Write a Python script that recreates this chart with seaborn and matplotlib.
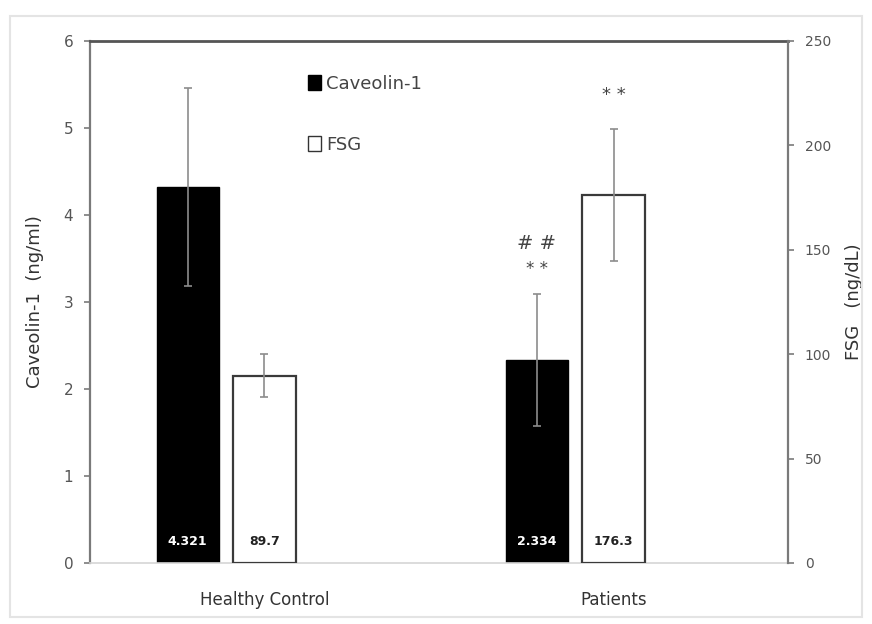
import matplotlib
matplotlib.use("Agg")
import matplotlib.pyplot as plt
from matplotlib.patches import Patch, Rectangle
import numpy as np
import pandas as pd
import seaborn as sns

# 各群の値
groups = ["Healthy Control", "Patients"]
caveolin = [4.321, 2.334]
caveolin_sd = [1.14, 0.76]
fsg = [89.7, 176.3]
fsg_sd = [10.3, 31.5]
series = ["Caveolin-1", "FSG"]
cav_labels = ["4.321", "2.334"]
fsg_labels = ["89.7", "176.3"]

sns.set_theme(style="white")
plt.rcParams["font.family"] = ["DejaVu Sans"]

fig = plt.figure(figsize=(8.72, 6.24), dpi=100)
ax1 = fig.add_axes([0.1032, 0.0978, 0.8005, 0.8365])
ax2 = ax1.twinx()

# 外枠
fig.patches.append(Rectangle((0.012, 0.012), 0.976, 0.963, transform=fig.transFigure,
                             fill=False, edgecolor="#e4e4e4", linewidth=1.5))

df_cav = pd.DataFrame({"group": groups, "value": caveolin, "series": "Caveolin-1"})
df_fsg = pd.DataFrame({"group": groups, "value": fsg})

# Caveolin-1 (左軸): 群中心から左へずらす
sns.barplot(data=df_cav, x="group", y="value", hue="series", hue_order=series,
            palette={"Caveolin-1": "black", "FSG": "white"}, width=0.88, gap=0.595,
            dodge=True, edgecolor="black", linewidth=1, legend=False, ax=ax1)
# FSG (右軸): 群中心
sns.barplot(data=df_fsg, x="group", y="value", color="white", width=0.178,
            edgecolor="#3a3a3a", linewidth=1.6, ax=ax2)

cav_bars = [p for p in ax1.patches if p.get_height() > 0]
fsg_bars = [p for p in ax2.patches if p.get_height() > 0]
cav_x = [p.get_x() + p.get_width() / 2 for p in cav_bars]
fsg_x = [p.get_x() + p.get_width() / 2 for p in fsg_bars]

ax1.errorbar(cav_x, caveolin, yerr=caveolin_sd, fmt="none", ecolor="#8c8c8c",
             elinewidth=1.2, capsize=3, capthick=1.2, zorder=5)
ax2.errorbar(fsg_x, fsg, yerr=fsg_sd, fmt="none", ecolor="#8c8c8c",
             elinewidth=1.2, capsize=3, capthick=1.2, zorder=5)

# 棒の中の数値
for x, t in zip(cav_x, cav_labels):
    ax1.text(x, 0.25, t, color="white", ha="center", va="center", fontsize=9, fontweight="bold")
for x, t in zip(fsg_x, fsg_labels):
    ax2.text(x, 10.4, t, color="#222222", ha="center", va="center", fontsize=9, fontweight="bold")

# 有意差の記号
ax2.text(fsg_x[1], 224, "* *", ha="center", va="center", fontsize=13, color="#444444")
ax1.text(cav_x[1], 3.67, "# #", ha="center", va="center", fontsize=14, color="#444444")
ax1.text(cav_x[1], 3.38, "* *", ha="center", va="center", fontsize=12, color="#444444")

ax1.set_ylim(0, 6)
ax2.set_ylim(0, 250)
ax1.set_xlim(-0.5, 1.5)
ax1.set_yticks(range(0, 7))
ax2.set_yticks(range(0, 251, 50))
ax1.set_xlabel("")
ax2.set_xlabel("")
ax1.set_ylabel("Caveolin-1  (ng/ml)", fontsize=13, color="#333333", labelpad=14)
ax2.set_ylabel("FSG   (ng/dL)", fontsize=13, color="#333333", labelpad=10)

for ax in (ax1, ax2):
    for s in ax.spines.values():
        s.set_visible(False)
ax1.spines["left"].set_visible(True)
ax1.spines["left"].set_color("#7a7a7a")
ax1.spines["left"].set_linewidth(1.6)
ax1.spines["top"].set_visible(True)
ax1.spines["top"].set_color("#555555")
ax1.spines["top"].set_linewidth(2)
ax1.spines["bottom"].set_visible(True)
ax1.spines["bottom"].set_color("#d5d5d5")
ax1.spines["bottom"].set_linewidth(1.2)
ax2.spines["right"].set_visible(True)
ax2.spines["right"].set_color("#7a7a7a")
ax2.spines["right"].set_linewidth(1.6)

ax1.tick_params(axis="y", left=True, length=4, width=1.2, color="#7a7a7a",
                labelsize=11, labelcolor="#555555", pad=8)
ax2.tick_params(axis="y", right=True, length=4, width=1.2, color="#7a7a7a",
                labelsize=10, labelcolor="#555555", pad=8)
ax1.tick_params(axis="x", bottom=False, labelsize=12, labelcolor="#333333", pad=14)

handles = [Patch(facecolor="black", edgecolor="black"),
           Patch(facecolor="white", edgecolor="#333333")]
fig.legend(handles, series, loc="upper left", bbox_to_anchor=(0.343, 0.895),
           frameon=False, fontsize=13, labelcolor="#444444", handlelength=0.7,
           handleheight=0.9, handletextpad=0.3, labelspacing=2.4, borderpad=0)

fig.savefig("out.png", dpi=100)
